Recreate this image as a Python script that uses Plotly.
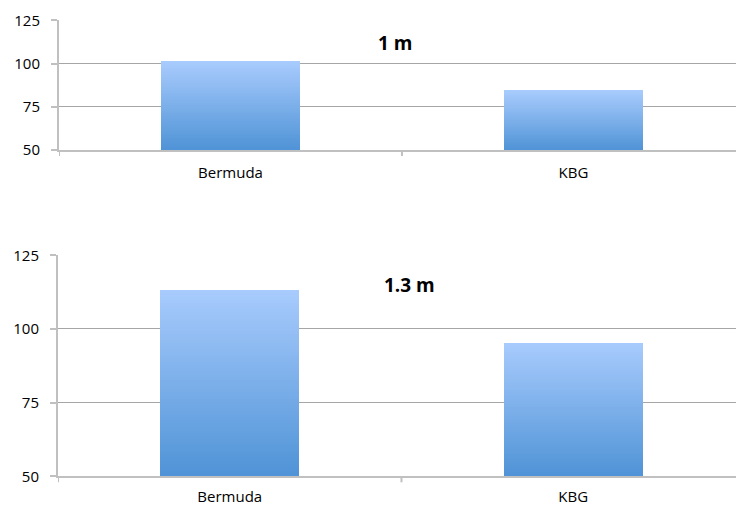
import plotly.graph_objects as go

# Data
categories = ["Bermuda", "KBG"]
values_1m = [101, 84]
values_13m = [113, 95]
panel_titles = ["1 m", "1.3 m"]
y_ticks = [50, 75, 100, 125]

W, H = 736, 508
FONT = "Open Sans, Liberation Sans, Arial, sans-serif"
TOP_COL = (168, 203, 253)
BOT_COL = (79, 147, 214)
N_SLICES = 60
BASE = 50

def lerp(c1, c2, t):
    return "rgb(%d,%d,%d)" % tuple(round(a + (b - a) * t) for a, b in zip(c1, c2))

fig = go.Figure()

def add_gradient_bars(values, xref, yref):
    # each bar is split into thin stacked slices that fade from dark (bottom) to light (top)
    for i in range(N_SLICES):
        t0, t1 = i / N_SLICES, (i + 1) / N_SLICES
        bases = [BASE + (v - BASE) * t0 for v in values]
        heights = [(v - BASE) * (t1 - t0) * 1.02 if i < N_SLICES - 1 else (v - BASE) * (t1 - t0)
                   for v in values]
        fig.add_trace(go.Bar(
            x=[0, 1], y=heights, base=bases, width=0.405,
            marker=dict(color=lerp(BOT_COL, TOP_COL, (t0 + t1) / 2), line=dict(width=0)),
            xaxis=xref, yaxis=yref, showlegend=False, hoverinfo="skip",
        ))

add_gradient_bars(values_1m, "x", "y")
add_gradient_bars(values_13m, "x2", "y2")

x_common = dict(
    range=[-0.5, 1.474], tickmode="array", tickvals=[0, 1], ticktext=categories,
    showgrid=False, zeroline=False, showline=True, linecolor="#c0c0c0", linewidth=2,
    ticks="", tickfont=dict(family=FONT, size=15, color="#000"), automargin=False,
)
y_common = dict(
    range=[50, 125], tickvals=y_ticks, showgrid=True, gridcolor="#a6a6a6", gridwidth=1,
    zeroline=False, showline=True, linecolor="#c0c0c0", linewidth=2,
    ticks="outside", ticklen=6, tickcolor="#c0c0c0", tickwidth=2,
    tickfont=dict(family=FONT, size=15, color="#000"), automargin=False,
    ticklabelstandoff=8,
)

fig.update_layout(
    width=W, height=H, margin=dict(l=0, r=0, t=0, b=0, pad=0, autoexpand=False),
    paper_bgcolor="white", plot_bgcolor="white", barmode="overlay", bargap=0,
    xaxis=dict(domain=[59 / W, 1], anchor="y", ticklabelstandoff=8, **x_common),
    yaxis=dict(domain=[1 - 150 / H, 1 - 20.3 / H], anchor="x", **y_common),
    xaxis2=dict(domain=[58 / W, 1], anchor="y2", ticklabelstandoff=6, **x_common),
    yaxis2=dict(domain=[1 - 476.3 / H, 1 - 255.3 / H], anchor="x2", **y_common),
)

# category boundary tick marks below each x axis
for xr, yr in (("x", "y"), ("x2", "y2")):
    depth = -6 / 130 if yr == "y" else -6 / 221
    for xb in (-0.5, 0.5):
        fig.add_shape(type="line", xref=xr, yref=yr + " domain", x0=xb, x1=xb, y0=0, y1=depth,
                      line=dict(color="#c0c0c0", width=2))

# panel titles
for title, cx, cy in ((panel_titles[0], 395, 43), (panel_titles[1], 409.5, 285)):
    fig.add_annotation(text="<b>%s</b>" % title, x=cx / W, y=1 - cy / H, xref="paper", yref="paper",
                       xanchor="center", yanchor="middle", showarrow=False,
                       font=dict(family=FONT, size=19, color="#000"))

fig.write_html("out.html")
